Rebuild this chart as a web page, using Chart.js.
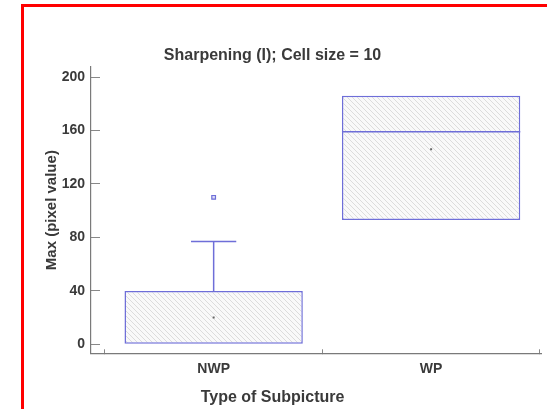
<!DOCTYPE html>
<html>
<head>
<meta charset="utf-8">
<script src="https://cdn.jsdelivr.net/npm/chart.js@4.4.1/dist/chart.umd.min.js"></script>
<style>
    html, body { margin: 0; padding: 0; background: #fff; overflow: hidden; }
    #wrap { position: relative; width: 547px; height: 409px; }
    #frame {
        position: absolute; left: 21px; top: 4px; width: 600px; height: 500px;
        border: 3px solid #ff0000; pointer-events: none;
    }
</style>
</head>
<body>
<div id="wrap">
    <canvas id="boxChart" width="547" height="409"></canvas>
    <div id="frame"></div>
</div>
<script>
// Box plot values
const categories = ['NWP', 'WP'];
const q1Values = [0, 93];
const medianValues = [0, 159];
const q3Values = [40, 186];
const whiskerLow = [0, 93];
const whiskerHigh = [77, 186];
const meanValues = [20, 146];
const outlierValues = [[110], []];
const yTickValues = [0, 40, 80, 120, 160, 200];

const BOX_BLUE = '#6e6ed8';
const TEXT = '#3a3a3a';
const FONT = "'Liberation Sans', Arial, sans-serif";
const BOX_HALF = 0.41;   // half box width, in category units
const CAP_HALF = 0.104;  // half whisker cap width

// Light diagonal hatching used inside the boxes
function makeHatch() {
    const s = 5;
    const c = document.createElement('canvas');
    c.width = s; c.height = s;
    const g = c.getContext('2d');
    g.fillStyle = '#f9f9f9';
    g.fillRect(0, 0, s, s);
    g.strokeStyle = '#dcdcdc';
    g.lineWidth = 1;
    g.beginPath();
    g.moveTo(-1, -1); g.lineTo(s + 1, s + 1);
    g.moveTo(-1, s - 1); g.lineTo(1, s + 1);
    g.moveTo(s - 1, -1); g.lineTo(s + 1, 1);
    g.stroke();
    return g.createPattern(c, 'repeat');
}

// x position of each category on the linear x scale
const catX = categories.map((_, i) => i + 1);

const boxData = categories.map((_, i) => ({ x: catX[i], y: [q1Values[i], q3Values[i]] }));

// medians, whiskers and caps as broken line segments
const lineData = [];
categories.forEach((_, i) => {
    const x = catX[i];
    if (medianValues[i] > q1Values[i] && medianValues[i] < q3Values[i]) {
        lineData.push({ x: x - BOX_HALF, y: medianValues[i] }, { x: x + BOX_HALF, y: medianValues[i] }, { x: x, y: null });
    }
    if (whiskerHigh[i] > q3Values[i]) {
        lineData.push({ x: x, y: q3Values[i] }, { x: x, y: whiskerHigh[i] }, { x: x, y: null });
        lineData.push({ x: x - CAP_HALF, y: whiskerHigh[i] }, { x: x + CAP_HALF, y: whiskerHigh[i] }, { x: x, y: null });
    }
    if (whiskerLow[i] < q1Values[i]) {
        lineData.push({ x: x, y: q1Values[i] }, { x: x, y: whiskerLow[i] }, { x: x, y: null });
        lineData.push({ x: x - CAP_HALF, y: whiskerLow[i] }, { x: x + CAP_HALF, y: whiskerLow[i] }, { x: x, y: null });
    }
});

const meanData = categories.map((_, i) => ({ x: catX[i], y: meanValues[i] }));
const outlierData = [];
outlierValues.forEach((list, i) => list.forEach(v => outlierData.push({ x: catX[i], y: v })));

const ctx = document.getElementById('boxChart').getContext('2d');

new Chart(ctx, {
    type: 'bar',
    data: {
        datasets: [
            {
                type: 'bar',
                data: boxData,
                backgroundColor: makeHatch(),
                borderColor: BOX_BLUE,
                borderWidth: 1.5,
                borderSkipped: false,
                categoryPercentage: 1,
                barPercentage: BOX_HALF * 4, // ruler is the half-category tick spacing
                order: 3
            },
            {
                type: 'line',
                data: lineData,
                borderColor: BOX_BLUE,
                borderWidth: 1.5,
                pointRadius: 0,
                spanGaps: false,
                fill: false,
                order: 2
            },
            {
                type: 'scatter',
                data: meanData,
                pointStyle: 'rect',
                pointRadius: 1.4,
                backgroundColor: '#666',
                borderColor: '#666',
                borderWidth: 0,
                order: 1
            },
            {
                type: 'scatter',
                data: outlierData,
                pointStyle: 'rect',
                pointRadius: 2.6,
                backgroundColor: 'rgba(110,110,216,0.25)',
                borderColor: BOX_BLUE,
                borderWidth: 1.2,
                order: 0
            }
        ]
    },
    options: {
        responsive: false,
        animation: false,
        layout: { padding: { left: 0, right: 2, top: 0, bottom: 0 } },
        plugins: {
            legend: { display: false },
            tooltip: { enabled: false },
            title: {
                display: true,
                text: 'Sharpening (I); Cell size = 10',
                color: TEXT,
                font: { family: FONT, size: 16, weight: 'bold' },
                padding: { top: 46, bottom: 1.8 }
            },
            subtitle: {
                display: true,
                position: 'bottom',
                text: 'Type of Subpicture',
                color: TEXT,
                font: { family: FONT, size: 16, weight: 'bold' },
                padding: { top: 0, bottom: 1.5 }
            }
        },
        scales: {
            x: {
                type: 'linear',
                position: 'bottom',
                offset: false,
                min: 0.436,
                max: 2.509,
                afterBuildTicks: scale => {
                    scale.ticks = [0.5, 1, 1.5, 2, 2.5].map(v => ({ value: v }));
                },
                afterFit: scale => {
                    scale.height = 35;
                    scale.paddingLeft = 0;
                    scale.paddingRight = 0;
                },
                ticks: {
                    autoSkip: false,
                    maxRotation: 0,
                    padding: 11,
                    color: TEXT,
                    font: { family: FONT, size: 14, weight: 'bold' },
                    callback: v => (Number.isInteger(v) ? categories[v - 1] : '')
                },
                grid: {
                    offset: false,
                    drawOnChartArea: false,
                    tickLength: -4,
                    tickColor: c => (c.tick && Number.isInteger(c.tick.value) ? 'rgba(0,0,0,0)' : '#888')
                },
                border: { color: '#7a7a7a', width: 1.2 }
            },
            y: {
                type: 'linear',
                min: -6.7,
                max: 207.5,
                afterBuildTicks: scale => {
                    scale.ticks = yTickValues.map(v => ({ value: v }));
                },
                afterFit: scale => { scale.width = 91; },
                ticks: {
                    padding: 15,
                    color: TEXT,
                    font: { family: FONT, size: 14, weight: 'bold' }
                },
                grid: {
                    drawOnChartArea: false,
                    tickLength: -9,
                    tickColor: '#888'
                },
                border: { color: '#7a7a7a', width: 1.2 },
                title: {
                    display: true,
                    text: 'Max (pixel value)',
                    color: TEXT,
                    font: { family: FONT, size: 15, weight: 'bold' },
                    padding: { top: 43, bottom: 0 }
                }
            }
        }
    }
});
</script>
</body>
</html>
